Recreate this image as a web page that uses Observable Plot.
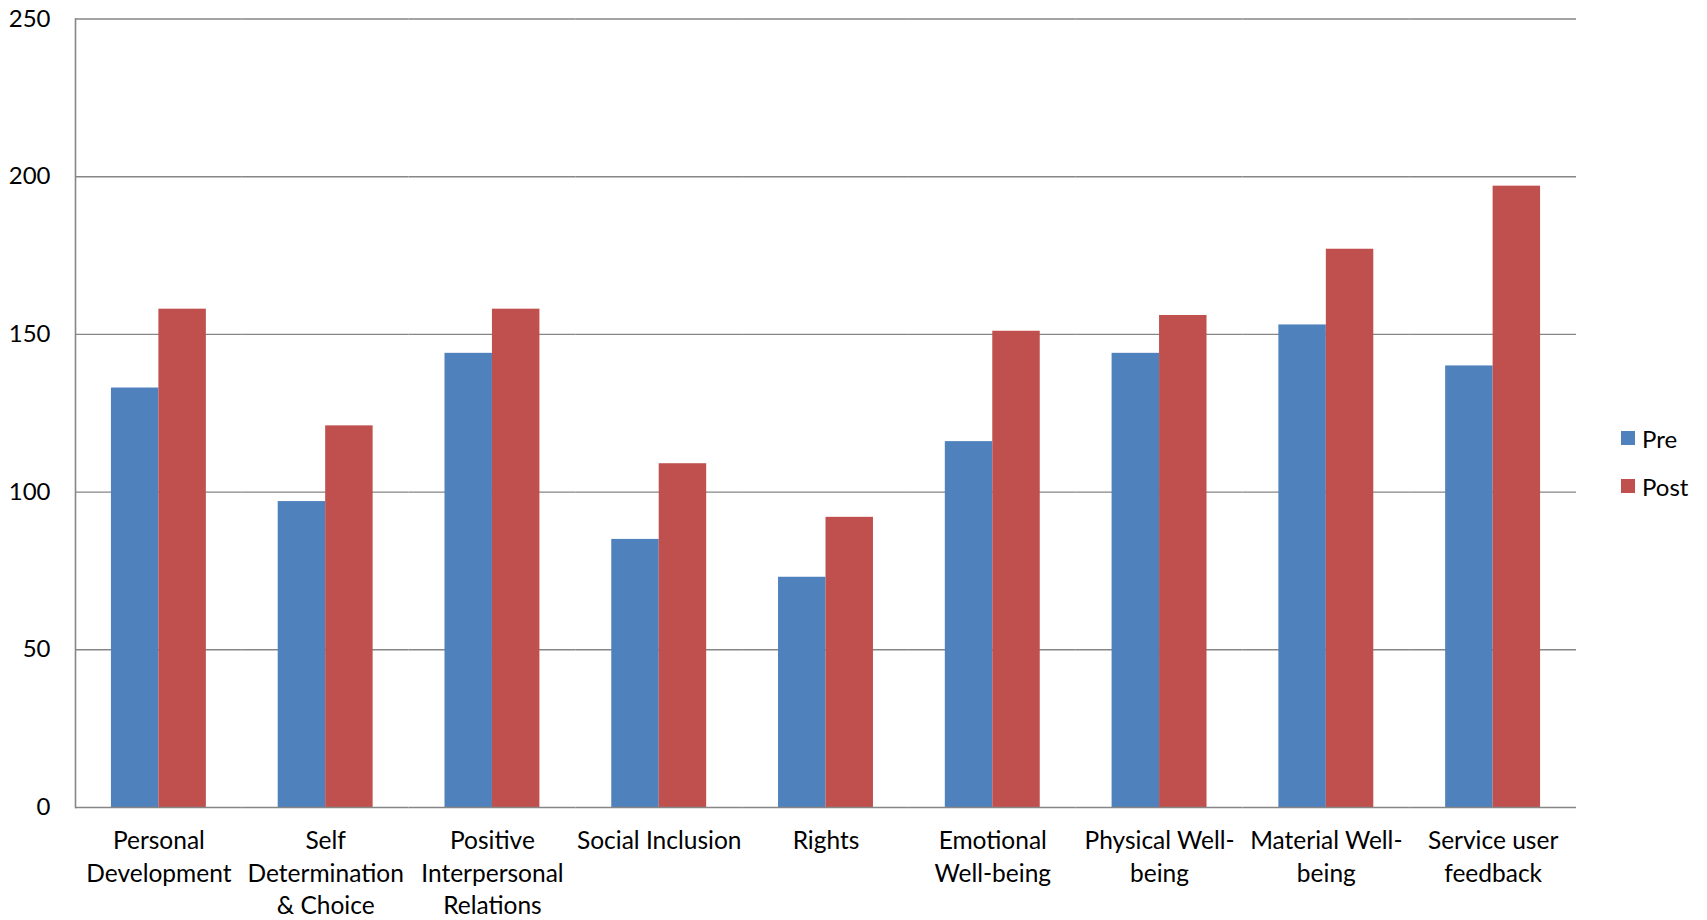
<!DOCTYPE html>
<html>
<head>
<meta charset="utf-8">
<script src="https://cdn.jsdelivr.net/npm/d3@7"></script>
<script src="https://cdn.jsdelivr.net/npm/@observablehq/plot@0.6"></script>
<style>
  html, body { margin: 0; padding: 0; background: #fff; }
  #chart { position: relative; width: 1707px; height: 920px; font-family: Lato, "Open Sans", sans-serif; }
  #legend { position: absolute; left: 1621px; top: 414px; font-size: 24px; color: #000; }
  .item { display: flex; align-items: center; height: 48px; }
  .swatch { width: 14px; height: 14px; margin-right: 7px; }
</style>
</head>
<body>
<div id="chart"></div>
<script>
// Quality-of-life domains, scored before and after
const categories = [
  "Personal Development",
  "Self Determination & Choice",
  "Positive Interpersonal Relations",
  "Social Inclusion",
  "Rights",
  "Emotional Well-being",
  "Physical Well-being",
  "Material Well-being",
  "Service user feedback"
];
// axis labels, wrapped as in the printed chart
const categoryLabels = [
  "Personal\nDevelopment",
  "Self\nDetermination\n& Choice",
  "Positive\nInterpersonal\nRelations",
  "Social Inclusion",
  "Rights",
  "Emotional\nWell-being",
  "Physical Well-\nbeing",
  "Material Well-\nbeing",
  "Service user\nfeedback"
];
const seriesNames = ["Pre", "Post"];
const preValues = [133, 97, 144, 85, 73, 116, 144, 153, 140];
const postValues = [158, 121, 158, 109, 92, 151, 156, 177, 197];
const yTicks = [0, 50, 100, 150, 200, 250];
const seriesColors = ["#4F81BD", "#C0504D"];

const rows = categories.flatMap((c, i) => [
  {category: c, series: "Pre", value: preValues[i]},
  {category: c, series: "Post", value: postValues[i]}
]);

const gridColor = "#868686";

const chart = Plot.plot({
  width: 1707,
  height: 920,
  marginLeft: 75,
  marginRight: 131,
  marginTop: 18.5,
  marginBottom: 113,
  style: {fontFamily: "Lato, 'Open Sans', sans-serif", fontSize: "24px", color: "#000", background: "#fff"},
  fx: {domain: categories, padding: 0, round: false, label: null},
  x: {domain: seriesNames, paddingInner: 0, paddingOuter: 0.757, round: false, axis: null},
  y: {domain: [0, 250], label: null},
  color: {domain: seriesNames, range: seriesColors},
  marks: [
    Plot.gridY(yTicks.slice(1), {stroke: gridColor, strokeOpacity: 1, strokeWidth: 1.4}),
    Plot.barY(rows, {fx: "category", x: "series", y: "value", fill: "series"}),
    Plot.ruleY([0], {stroke: gridColor, strokeWidth: 1.6}),
    Plot.frame({anchor: "left", facetAnchor: "left", stroke: gridColor, strokeWidth: 1.6}),
    Plot.axisY(yTicks, {tickSize: 0, tickPadding: 25, fontSize: 24, fill: "#000"}),
    Plot.axisFx({
      anchor: "bottom",
      tickSize: 0,
      tickPadding: 19,
      lineHeight: 1.32,
      fontSize: 24.5,
      fill: "#000",
      tickFormat: (c) => categoryLabels[categories.indexOf(c)]
    })
  ]
});

const host = document.getElementById("chart");
host.appendChild(chart);

// legend to the right of the plot area
const legend = document.createElement("div");
legend.id = "legend";
seriesNames.forEach((name, i) => {
  const item = document.createElement("div");
  item.className = "item";
  const sw = document.createElement("span");
  sw.className = "swatch";
  sw.style.background = seriesColors[i];
  const label = document.createElement("span");
  label.textContent = name;
  item.appendChild(sw);
  item.appendChild(label);
  legend.appendChild(item);
});
host.appendChild(legend);
</script>
</body>
</html>
